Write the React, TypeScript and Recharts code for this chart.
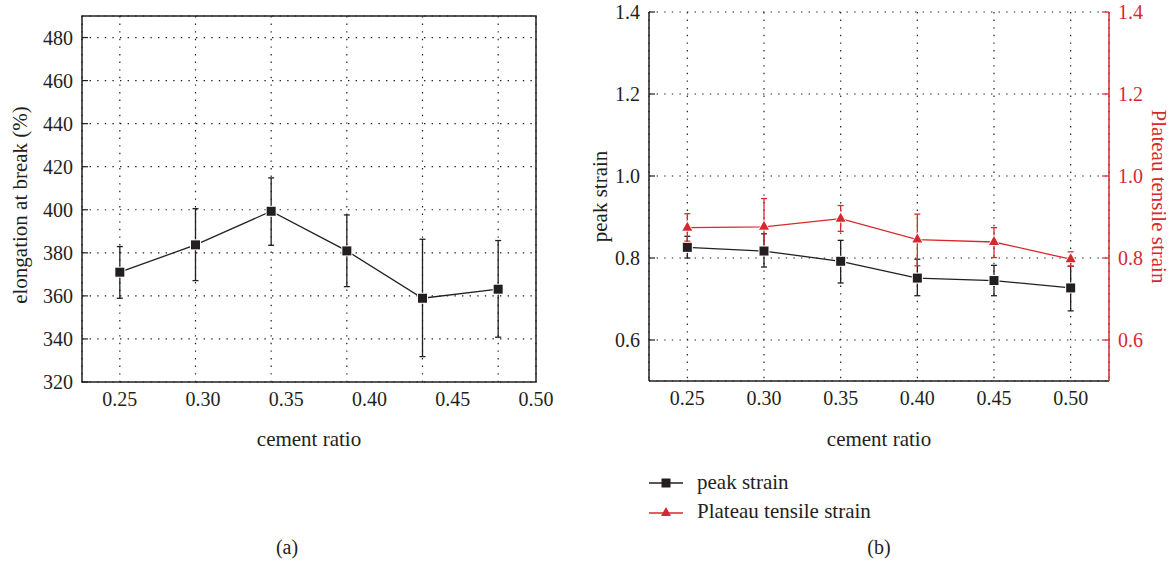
import React from "react"
import {LineChart, Line, XAxis, YAxis, CartesianGrid, ErrorBar, ReferenceArea} from "recharts"

// cement ratio categories
const ratioLabels = ["0.25", "0.30", "0.35", "0.40", "0.45", "0.50"]

// (a) elongation at break (%) with [below, above] error
const elongation = [371, 383.7, 399.3, 380.9, 358.9, 363.1]
const elongationErr = [[12.1, 11.9], [16.6, 16.8], [15.8, 15.5], [16.6, 16.7], [27.1, 27.4], [22.3, 22.6]]

// (b) strains
const peakStrain = [0.826, 0.817, 0.792, 0.751, 0.745, 0.727]
const peakErr = [[0.026, 0.027], [0.039, 0.042], [0.053, 0.051], [0.043, 0.046], [0.037, 0.037], [0.056, 0.053]]
const plateauStrain = [0.874, 0.876, 0.896, 0.845, 0.839, 0.797]
const plateauErr = [[0.033, 0.034], [0.068, 0.069], [0.031, 0.032], [0.064, 0.062], [0.038, 0.035], [0.017, 0.018]]

const elongTicks = [320, 340, 360, 380, 400, 420, 440, 460, 480]
const strainTicks = [0.6, 0.8, 1.0, 1.2, 1.4]

const BLACK = "#231f20"
const RED = "#d7282f"
const FONT = "'Liberation Serif', serif"

// in (a) the printed ratio labels run on a slightly wider step than the points
const LABEL_STEP = 1.1
const labelTicksA = ratioLabels.map((_, k) => +(k * LABEL_STEP).toFixed(2))

const leftData = ratioLabels.map((r, i) => ({i, v: elongation[i], e: elongationErr[i]}))
const rightData = ratioLabels.map((r, i) => ({
    i,
    peak: peakStrain[i],
    peakE: peakErr[i],
    plateau: plateauStrain[i],
    plateauE: plateauErr[i],
}))

const Square = (p: any) => {
    if (p.cx == null || p.cy == null) return null
    return <rect x={p.cx - 4.5} y={p.cy - 4.5} width={9} height={9} fill={BLACK} stroke="#fff" strokeWidth={2} paintOrder="stroke" />
}

const Triangle = (p: any) => {
    if (p.cx == null || p.cy == null) return null
    const {cx, cy} = p
    return <polygon points={`${cx},${cy - 6} ${cx - 5},${cy + 3} ${cx + 5},${cy + 3}`} fill={RED} stroke="#fff" strokeWidth={1.5} paintOrder="stroke" />
}

// inward tick + label (tickSize 0, tickMargin 9 on the axis)
const LeftTick = (p: any) => {
    const ax = p.x + 9
    return (
        <g>
            <line x1={ax} y1={p.y} x2={ax + 6} y2={p.y} stroke={BLACK} strokeWidth={1.2} />
            <text x={p.x} y={p.y} dy="0.35em" textAnchor="end" fill={BLACK} fontSize={20} fontFamily={FONT}>{p.tickFormatter ? p.tickFormatter(p.payload.value) : p.payload.value}</text>
        </g>
    )
}

const RedTick = (p: any) => {
    const ax = p.x - 9
    return (
        <g>
            <line x1={ax - 7} y1={p.y} x2={ax} y2={p.y} stroke={RED} strokeWidth={1.2} />
            <text x={p.x} y={p.y} dy="0.35em" fill={RED} fontSize={20} fontFamily={FONT}>{p.payload.value.toFixed(1)}</text>
        </g>
    )
}

const tickStyle = {fill: BLACK, fontSize: 20, fontFamily: FONT}
const labelFont = {fontSize: 21, fontFamily: FONT}
const gridProps = {stroke: BLACK, strokeDasharray: "1.4 6.2", strokeWidth: 1.2}

const App = () => {
    return (
        <div style={{position: "absolute", left: 0, top: 0, width: 1173, height: 565, background: "#fff", fontFamily: FONT}}>
            <div style={{position: "absolute", left: 0, top: 0}}>
                <LineChart width={560} height={455} data={leftData} margin={{top: 16, right: 24, bottom: 0, left: 0}}>
                    <CartesianGrid {...gridProps} />
                    <XAxis dataKey="i" type="number" domain={[-0.5, 5.5]} ticks={[0, 1, 2, 3, 4, 5]} hide height={0} />
                    <XAxis xAxisId="lab" dataKey="i" type="number" domain={[-0.5, 5.5]} ticks={labelTicksA} allowDataOverflow
                        tickFormatter={(v: number) => ratioLabels[Math.round(v / LABEL_STEP)]} axisLine={false} tickLine={false} height={73}
                        tickMargin={4} tick={tickStyle} interval={0}
                        label={{value: "cement ratio", position: "insideBottom", offset: 9, fill: BLACK, ...labelFont}} />
                    <YAxis domain={[320, 490]} ticks={elongTicks} width={82} axisLine={false} tickLine={false} tickSize={0} tickMargin={9}
                        tick={<LeftTick />} interval={0}
                        label={{value: "elongation at break (%)", angle: -90, position: "insideLeft", offset: 20, dy: 6, fill: BLACK, ...labelFont, style: {textAnchor: "middle"}}} />
                    <ReferenceArea x1={-0.5} x2={5.5} y1={320} y2={490} fill="none" stroke={BLACK} strokeWidth={1.5} ifOverflow="visible" />
                    <Line dataKey="v" stroke={BLACK} strokeWidth={1.3} dot={<Square />} isAnimationActive={false}>
                        <ErrorBar dataKey="e" width={3} stroke={BLACK} strokeWidth={1.3} direction="y" />
                    </Line>
                </LineChart>
            </div>

            <div style={{position: "absolute", left: 560, top: 0}}>
                <LineChart width={613} height={455} data={rightData} margin={{top: 12, right: 0, bottom: 0, left: 0}}>
                    <CartesianGrid {...gridProps} />
                    <XAxis dataKey="i" type="number" domain={[-0.5, 5.5]} ticks={[0, 1, 2, 3, 4, 5]} interval={0}
                        tickFormatter={(v: number) => ratioLabels[v]} axisLine={{stroke: BLACK, strokeWidth: 1.5}} tickLine={false}
                        height={74} tickMargin={4} tick={tickStyle}
                        label={{value: "cement ratio", position: "insideBottom", offset: 9, fill: BLACK, ...labelFont}} />
                    <XAxis xAxisId="top" orientation="top" type="number" domain={[-0.5, 5.5]} height={0} tick={false} tickLine={false}
                        axisLine={{stroke: BLACK, strokeWidth: 1.5}} />
                    <YAxis domain={[0.5, 1.4]} ticks={strainTicks} width={89} interval={0} tickFormatter={(v: number) => v.toFixed(1)}
                        axisLine={{stroke: BLACK, strokeWidth: 1.5}} tickLine={false} tickSize={0} tickMargin={9} tick={<LeftTick />}
                        label={{value: "peak strain", angle: -90, position: "insideLeft", offset: 40, fill: BLACK, ...labelFont, style: {textAnchor: "middle"}}} />
                    <YAxis yAxisId="r" orientation="right" domain={[0.5, 1.4]} ticks={strainTicks} width={64} interval={0}
                        axisLine={{stroke: RED, strokeWidth: 1.5}} tickLine={false} tickSize={0} tickMargin={9} tick={<RedTick />}
                        label={{value: "Plateau tensile strain", angle: 90, position: "insideRight", offset: 14, fill: RED, ...labelFont, style: {textAnchor: "middle"}}} />
                    <Line dataKey="peak" stroke={BLACK} strokeWidth={1.3} dot={<Square />} isAnimationActive={false}>
                        <ErrorBar dataKey="peakE" width={3} stroke={BLACK} strokeWidth={1.3} direction="y" />
                    </Line>
                    <Line yAxisId="r" dataKey="plateau" stroke={RED} strokeWidth={1.3} dot={<Triangle />} isAnimationActive={false}>
                        <ErrorBar dataKey="plateauE" width={3} stroke={RED} strokeWidth={1.3} direction="y" />
                    </Line>
                </LineChart>
            </div>

            {/* legend for (b) */}
            <div style={{position: "absolute", left: 649, top: 468, fontSize: 21, color: BLACK, lineHeight: "29px"}}>
                <div style={{display: "flex", alignItems: "center"}}>
                    <svg width={36} height={12} style={{marginRight: 12}}>
                        <line x1={0} y1={6} x2={34} y2={6} stroke={BLACK} strokeWidth={1.3} />
                        <rect x={12.5} y={1.5} width={9} height={9} fill={BLACK} />
                    </svg>
                    <span>peak strain</span>
                </div>
                <div style={{display: "flex", alignItems: "center"}}>
                    <svg width={36} height={12} style={{marginRight: 12}}>
                        <line x1={0} y1={7} x2={34} y2={7} stroke={RED} strokeWidth={1.3} />
                        <polygon points="17,1 12,10 22,10" fill={RED} />
                    </svg>
                    <span>Plateau tensile strain</span>
                </div>
            </div>

            <div style={{position: "absolute", left: 267, top: 536, width: 40, textAlign: "center", fontSize: 20, color: BLACK}}>(a)</div>
            <div style={{position: "absolute", left: 859, top: 536, width: 40, textAlign: "center", fontSize: 20, color: BLACK}}>(b)</div>
        </div>
    )
}

export default App
